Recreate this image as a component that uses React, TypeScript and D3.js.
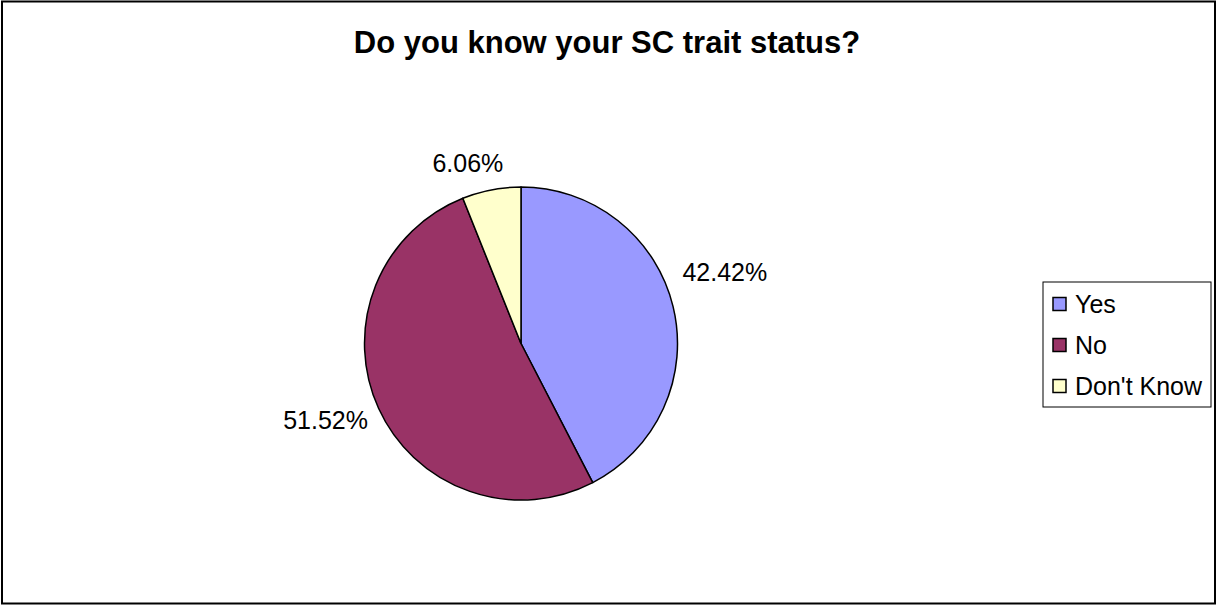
import React, { useEffect } from "react";
import * as d3 from "d3";

const categories = ["Yes", "No", "Don't Know"];
const values = [42.42, 51.52, 6.06];
const labels = ["42.42%", "51.52%", "6.06%"];
const colors = ["#9999FF", "#993366", "#FFFFCC"];
const title = "Do you know your SC trait status?";

// label placement (layout): angular nudge from slice mid-angle (deg) and distance from centre
const labelAngleNudge = [-5.7, 3.1, -5.5];
const labelDistance = [216, 210, 188];

const W = 1217;
const H = 605;

export default function App() {
  useEffect(() => {
    document.body.style.margin = "0";
  }, []);

  const cx = 521;
  const cy = 343.5;
  const r = 156.5;
  const font = "Arial, 'Liberation Sans', sans-serif";

  const pie = d3.pie<number>().sort(null).value((d) => d);
  const arcs = pie(values);
  const arcGen = d3.arc<d3.PieArcDatum<number>>().innerRadius(0).outerRadius(r);

  const labelSize = 25;

  const legendX = 1043;
  const legendY = 282;
  const legendW = 168;
  const legendH = 125;
  const legendStep = 41;

  return (
    <svg width={W} height={H} style={{ display: "block", position: "absolute", left: 0, top: 0 }}>
      <rect x={0} y={0} width={W} height={H} fill="#ffffff" />
      <rect x={2} y={1.5} width={W - 4} height={H - 3} fill="none" stroke="#000" strokeWidth={2} />
      <text
        x={607}
        y={53}
        textAnchor="middle"
        fontFamily={font}
        fontWeight="bold"
        fontSize={31}
        fill="#000"
      >
        {title}
      </text>
      <g transform={`translate(${cx},${cy})`}>
        {arcs.map((a, i) => (
          <path key={i} d={arcGen(a) || ""} fill={colors[i]} stroke="#000" strokeWidth={1.5} strokeLinejoin="round" />
        ))}
        {arcs.map((a, i) => {
          const mid = (a.startAngle + a.endAngle) / 2 + (labelAngleNudge[i] * Math.PI) / 180;
          const x = Math.sin(mid) * labelDistance[i];
          const y = -Math.cos(mid) * labelDistance[i];
          return (
            <text
              key={i}
              x={x}
              y={y}
              textAnchor="middle"
              dominantBaseline="central"
              fontFamily={font}
              fontSize={labelSize}
              fill="#000"
            >
              {labels[i]}
            </text>
          );
        })}
      </g>
      <rect x={legendX} y={legendY} width={legendW} height={legendH} fill="#fff" stroke="#000" strokeWidth={1} />
      {categories.map((c, i) => {
        const yc = legendY + 22 + i * legendStep;
        return (
          <g key={c}>
            <rect x={legendX + 10} y={yc - 6.5} width={13} height={13} fill={colors[i]} stroke="#000" strokeWidth={1.5} />
            <text x={legendX + 32} y={yc} dominantBaseline="central" fontFamily={font} fontSize={labelSize} fill="#000">
              {c}
            </text>
          </g>
        );
      })}
    </svg>
  );
}
